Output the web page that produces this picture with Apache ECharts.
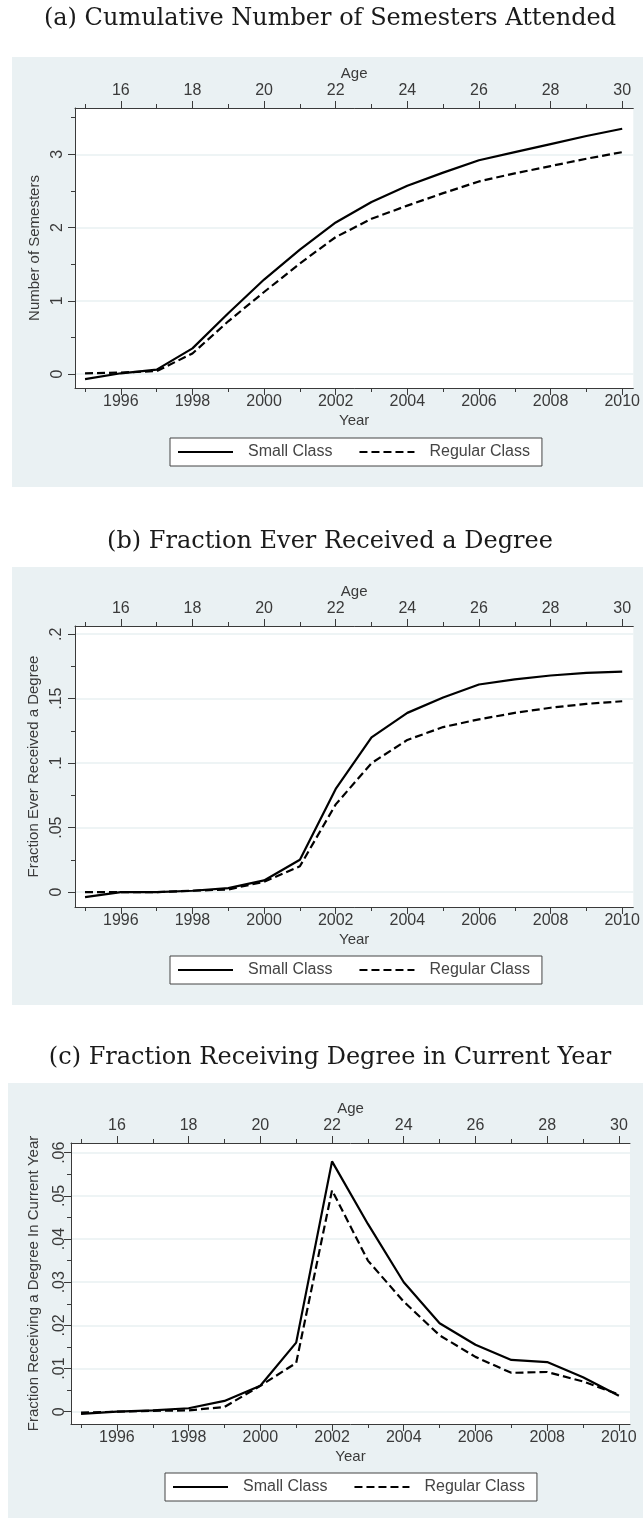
<!DOCTYPE html>
<html>
<head>
<meta charset="utf-8">
<title>Small vs Regular Class</title>
<script src="https://cdn.jsdelivr.net/npm/echarts@6/dist/echarts.min.js"></script>
<style>
html, body { margin: 0; padding: 0; background: #fff; }
#main { width: 643px; height: 1518px; }
</style>
</head>
<body>
<div id="main"></div>
<script>
// data
var years = [1995, 1996, 1997, 1998, 1999, 2000, 2001, 2002, 2003, 2004, 2005, 2006, 2007, 2008, 2009, 2010];

// (a) cumulative semesters
var semSmall   = [-0.07, 0.01, 0.06, 0.35, 0.83, 1.29, 1.70, 2.07, 2.35, 2.57, 2.75, 2.92, 3.03, 3.14, 3.25, 3.35];
var semRegular = [0.01, 0.02, 0.04, 0.28, 0.72, 1.12, 1.51, 1.87, 2.12, 2.30, 2.47, 2.63, 2.74, 2.84, 2.94, 3.03];

// (b) fraction ever received a degree
var degSmall   = [-0.004, 0.000, 0.000, 0.001, 0.003, 0.009, 0.025, 0.080, 0.120, 0.139, 0.151, 0.161, 0.165, 0.168, 0.170, 0.171];
var degRegular = [0.000, 0.000, 0.000, 0.001, 0.002, 0.008, 0.020, 0.068, 0.100, 0.118, 0.128, 0.134, 0.139, 0.143, 0.146, 0.148];

// (c) fraction receiving degree in current year
var curSmall   = [-0.0005, 0.0000, 0.0003, 0.0008, 0.0025, 0.0060, 0.0160, 0.0580, 0.0435, 0.0300, 0.0205, 0.0155, 0.0120, 0.0115, 0.0080, 0.0037];
var curRegular = [-0.0002, 0.0000, 0.0002, 0.0003, 0.0011, 0.0060, 0.0113, 0.0513, 0.0350, 0.0255, 0.0177, 0.0127, 0.0090, 0.0092, 0.0070, 0.0040];

// tick labels
var yearLabels = [1996, 1998, 2000, 2002, 2004, 2006, 2008, 2010];
var yearMinor  = [1995, 1997, 1999, 2001, 2003, 2005, 2007, 2009];
var ageLabels  = [16, 18, 20, 22, 24, 26, 28, 30];
var ageMinor   = [15, 17, 19, 21, 23, 25, 27, 29];
var semTicks = [0, 1, 2, 3];
var semMinor = [0.5, 1.5, 2.5, 3.5];
var degTicks = [0, 0.05, 0.1, 0.15, 0.2];
var degMinor = [0.025, 0.075, 0.125, 0.175];
var curTicks = [0, 0.01, 0.02, 0.03, 0.04, 0.05, 0.06];
var curMinor = [0.005, 0.015, 0.025, 0.035, 0.045, 0.055];

var legendNames = ['Small Class', 'Regular Class'];

// layout of the three panels
var panels = [
	{
		title: '(a) Cumulative Number of Semesters Attended', titleY: 19,
		box: [12, 57, 631, 430], grid: [75, 108, 560, 280],
		ymin: -0.191, ymax: 3.633, yName: 'Number of Semesters',
		ticks: semTicks, minor: semMinor, small: semSmall, regular: semRegular,
		labelMargin: 9, legend: [170, 438]
	},
	{
		title: '(b) Fraction Ever Received a Degree', titleY: 542,
		box: [12, 567, 631, 438], grid: [75, 626, 560, 281],
		ymin: -0.0116, ymax: 0.2064, yName: 'Fraction Ever Received a Degree',
		ticks: degTicks, minor: degMinor, small: degSmall, regular: degRegular,
		labelMargin: 10, legend: [170, 956]
	},
	{
		title: '(c) Fraction Receiving Degree in Current Year', titleY: 1058,
		box: [8, 1083, 635, 435], grid: [71, 1143, 559, 281],
		ymin: -0.00285, ymax: 0.06225, yName: 'Fraction Receiving a Degree In Current Year',
		ticks: curTicks, minor: curMinor, small: curSmall, regular: curRegular,
		labelMargin: 3, legend: [165, 1473]
	}
];

var xMin = 1994.72, xMax = 2010.31, ageShift = 1980;
var axisColor = '#3a3a3a', textColor = '#3a3a3a', font = 'Liberation Sans';

// stata style number labels: .05 instead of 0.05
function stataLabel(v) {
	if (v === 0) return '0';
	return String(v).replace(/^0\./, '.');
}

function pairs(vals) {
	return years.map(function(y, i) {
		return [ y, vals[i] ];
	});
}

function tickLabel(values, margin, fmt) {
	return {
		customValues : values, margin : margin, formatter : fmt,
		fontSize : 16, color : textColor, fontFamily : font
	};
}

var chart = echarts.init(document.getElementById('main'));

var grids = [], xAxes = [], yAxes = [], series = [], legends = [], graphics = [];

panels.forEach(function(p, g) {
	graphics.push({
		type : 'rect',
		z : -100,
		silent : true,
		shape : { x : p.box[0], y : p.box[1], width : p.box[2], height : p.box[3] },
		style : { fill : '#eaf1f3' }
	});
	graphics.push({
		type : 'text',
		x : 330,
		y : p.titleY,
		silent : true,
		style : {
			text : p.title,
			fontSize : 24,
			fontFamily : 'DejaVu Serif',
			fill : '#1a1a1a',
			align : 'center',
			verticalAlign : 'middle'
		}
	});

	grids.push({
		left : p.grid[0], top : p.grid[1], width : p.grid[2], height : p.grid[3],
		show : true, backgroundColor : '#fff', borderWidth : 0
	});

	var lineSty = { show : true, onZero : false, lineStyle : { color : axisColor, width : 1 } };
	var nameSty = { fontSize : 15, color : textColor, fontFamily : font };

	// bottom: Year
	xAxes.push({
		type : 'value', gridIndex : g, position : 'bottom', min : xMin, max : xMax,
		axisLine : lineSty,
		axisTick : { show : true, customValues : yearLabels, length : 7, lineStyle : { color : axisColor } },
		axisLabel : tickLabel(yearLabels, 6, function(v) { return String(v); }),
		splitLine : { show : false },
		name : 'Year', nameLocation : 'middle', nameGap : 25, nameTextStyle : nameSty
	});
	xAxes.push({
		type : 'value', gridIndex : g, position : 'bottom', min : xMin, max : xMax,
		axisLine : { show : false, onZero : false },
		axisTick : { show : true, customValues : yearMinor, length : 4, lineStyle : { color : axisColor } },
		axisLabel : { show : false }, splitLine : { show : false }
	});
	// top: Age
	xAxes.push({
		type : 'value', gridIndex : g, position : 'top', min : xMin - ageShift, max : xMax - ageShift,
		axisLine : lineSty,
		axisTick : { show : true, customValues : ageLabels, length : 7, lineStyle : { color : axisColor } },
		axisLabel : tickLabel(ageLabels, 9, function(v) { return String(v); }),
		splitLine : { show : false },
		name : 'Age', nameLocation : 'middle', nameGap : 27, nameTextStyle : nameSty
	});
	xAxes.push({
		type : 'value', gridIndex : g, position : 'top', min : xMin - ageShift, max : xMax - ageShift,
		axisLine : { show : false, onZero : false },
		axisTick : { show : true, customValues : ageMinor, length : 4, lineStyle : { color : axisColor } },
		axisLabel : { show : false }, splitLine : { show : false }
	});

	// left: value
	var yl = tickLabel(p.ticks, p.labelMargin, stataLabel);
	yl.rotate = 90;
	yAxes.push({
		type : 'value', gridIndex : g, position : 'left', min : p.ymin, max : p.ymax,
		axisLine : lineSty,
		axisTick : { show : true, customValues : p.ticks, length : 7, lineStyle : { color : axisColor } },
		axisLabel : yl,
		splitLine : { show : true, customValues : p.ticks, lineStyle : { color : '#e9f0f2', width : 1.5 } },
		name : p.yName, nameLocation : 'middle', nameGap : 30, nameRotate : 90, nameTextStyle : nameSty
	});
	yAxes.push({
		type : 'value', gridIndex : g, position : 'left', min : p.ymin, max : p.ymax,
		axisLine : { show : false, onZero : false },
		axisTick : { show : true, customValues : p.minor, length : 4, lineStyle : { color : axisColor } },
		axisLabel : { show : false }, splitLine : { show : false }
	});

	series.push({
		name : 'Small Class', type : 'line', xAxisIndex : 4 * g, yAxisIndex : 2 * g,
		data : pairs(p.small), symbol : 'none', silent : true, z : 3,
		itemStyle : { color : '#000' },
		lineStyle : { color : '#000', width : 2.2, type : 'solid' }
	});
	series.push({
		name : 'Regular Class', type : 'line', xAxisIndex : 4 * g, yAxisIndex : 2 * g,
		data : pairs(p.regular), symbol : 'none', silent : true, z : 3,
		itemStyle : { color : '#000' },
		lineStyle : { color : '#000', width : 2.2, type : [ 8, 4 ] }
	});

	legends.push({
		left : p.legend[0], top : p.legend[1], orient : 'horizontal',
		data : legendNames, selectedMode : false,
		itemWidth : 55, itemHeight : 14, itemGap : 26,
		padding : [ 6, 12, 6, 7 ],
		borderColor : '#444', borderWidth : 1, backgroundColor : '#fff',
		// hide the symbol that the line icon would draw, keep the line
		itemStyle : { color : 'rgba(0,0,0,0)', borderWidth : 0, opacity : 0 },
		lineStyle : { width : 2 },
		textStyle : { fontSize : 16, color : '#444', fontFamily : font, padding : [ 0, 0, 0, 10 ] }
	});
});

chart.setOption({
	animation : false,
	backgroundColor : '#fff',
	graphic : graphics,
	grid : grids,
	xAxis : xAxes,
	yAxis : yAxes,
	legend : legends,
	series : series
});
</script>
</body>
</html>
